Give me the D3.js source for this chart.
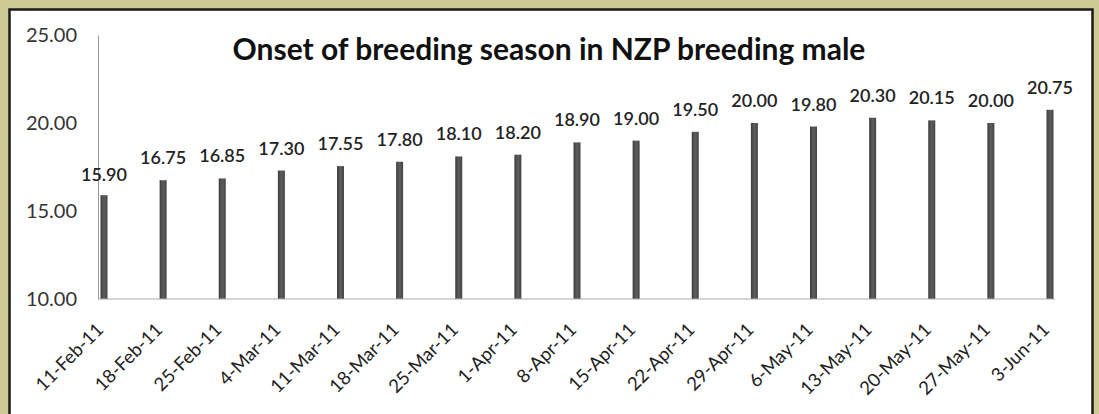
<!DOCTYPE html>
<html><head><meta charset="utf-8">
<script src="https://cdn.jsdelivr.net/npm/d3@7"></script>
<style>html,body{margin:0;padding:0;background:#cdca95;}svg{display:block;}</style>
</head><body>
<svg id="c" width="1099" height="414"></svg>
<script>
const categories = ["11-Feb-11","18-Feb-11","25-Feb-11","4-Mar-11","11-Mar-11","18-Mar-11","25-Mar-11","1-Apr-11","8-Apr-11","15-Apr-11","22-Apr-11","29-Apr-11","6-May-11","13-May-11","20-May-11","27-May-11","3-Jun-11"];
const values = [15.90,16.75,16.85,17.30,17.55,17.80,18.10,18.20,18.90,19.00,19.50,20.00,19.80,20.30,20.15,20.00,20.75];
const yTicks = [10,15,20,25];
const title = "Onset of breeding season in NZP breeding male";

const svg = d3.select("#c");
const defs = svg.append("defs");
const g1 = defs.append("linearGradient").attr("id","barg").attr("x1","0").attr("x2","1").attr("y1","0").attr("y2","0");
g1.append("stop").attr("offset","0").attr("stop-color","#3c3c3c");
g1.append("stop").attr("offset","0.5").attr("stop-color","#5e5e5e");
g1.append("stop").attr("offset","1").attr("stop-color","#444");

// panel
svg.append("rect").attr("x",0).attr("y",0).attr("width",1099).attr("height",414).attr("fill","#cdca95");
svg.append("rect").attr("x",9.5).attr("y",9.5).attr("width",1083).attr("height",420)
  .attr("fill","#fff").attr("stroke","#1a1a1a").attr("stroke-width",2.5);

const x = d3.scalePoint().domain(categories).range([104,1050]);
const y = d3.scaleLinear().domain([10,25]).range([299,35]);

svg.append("text").attr("x",549).attr("y",60).attr("text-anchor","middle")
  .attr("font-family","Lato, 'Open Sans', sans-serif").attr("font-weight","bold")
  .attr("font-size",30).attr("fill","#111").text(title);

// y axis
const ya = svg.append("g").attr("transform","translate(98,0)")
  .call(d3.axisLeft(y).tickValues(yTicks).tickSize(0).tickPadding(21).tickFormat(d3.format(".2f")));
ya.select(".domain").attr("stroke","#999");
ya.selectAll("text").attr("font-family","Lato, 'Open Sans', sans-serif").attr("font-size",20).attr("fill","#333");

// bars
svg.append("g").selectAll("rect").data(values).join("rect")
  .attr("x",(d,i)=>x(categories[i])-3.5).attr("width",7)
  .attr("y",d=>y(d)).attr("height",d=>y(10)-y(d))
  .attr("fill","url(#barg)");

// x axis
const xa = svg.append("g").attr("transform","translate(0,299)")
  .call(d3.axisBottom(x).tickSize(0).tickPadding(0));
xa.select(".domain").attr("d","M98,0H1055").attr("stroke","#aaa");
xa.selectAll("text").attr("font-family","Lato, 'Open Sans', sans-serif").attr("font-size",18.5).attr("fill","#222")
  .attr("text-anchor","end").attr("dy","0").attr("y",0)
  .attr("transform","translate(0,32) rotate(-45)");

// labels
svg.append("g").selectAll("text").data(values).join("text")
  .attr("x",(d,i)=>x(categories[i])).attr("y",(d,i)=> i===0 ? y(d)-14 : y(d)-16)
  .attr("text-anchor","middle").attr("font-family","Lato, 'Open Sans', sans-serif")
  .attr("font-weight","600").attr("font-size",18).attr("fill","#222")
  .text(d=>d.toFixed(2));
</script>
</body></html>
